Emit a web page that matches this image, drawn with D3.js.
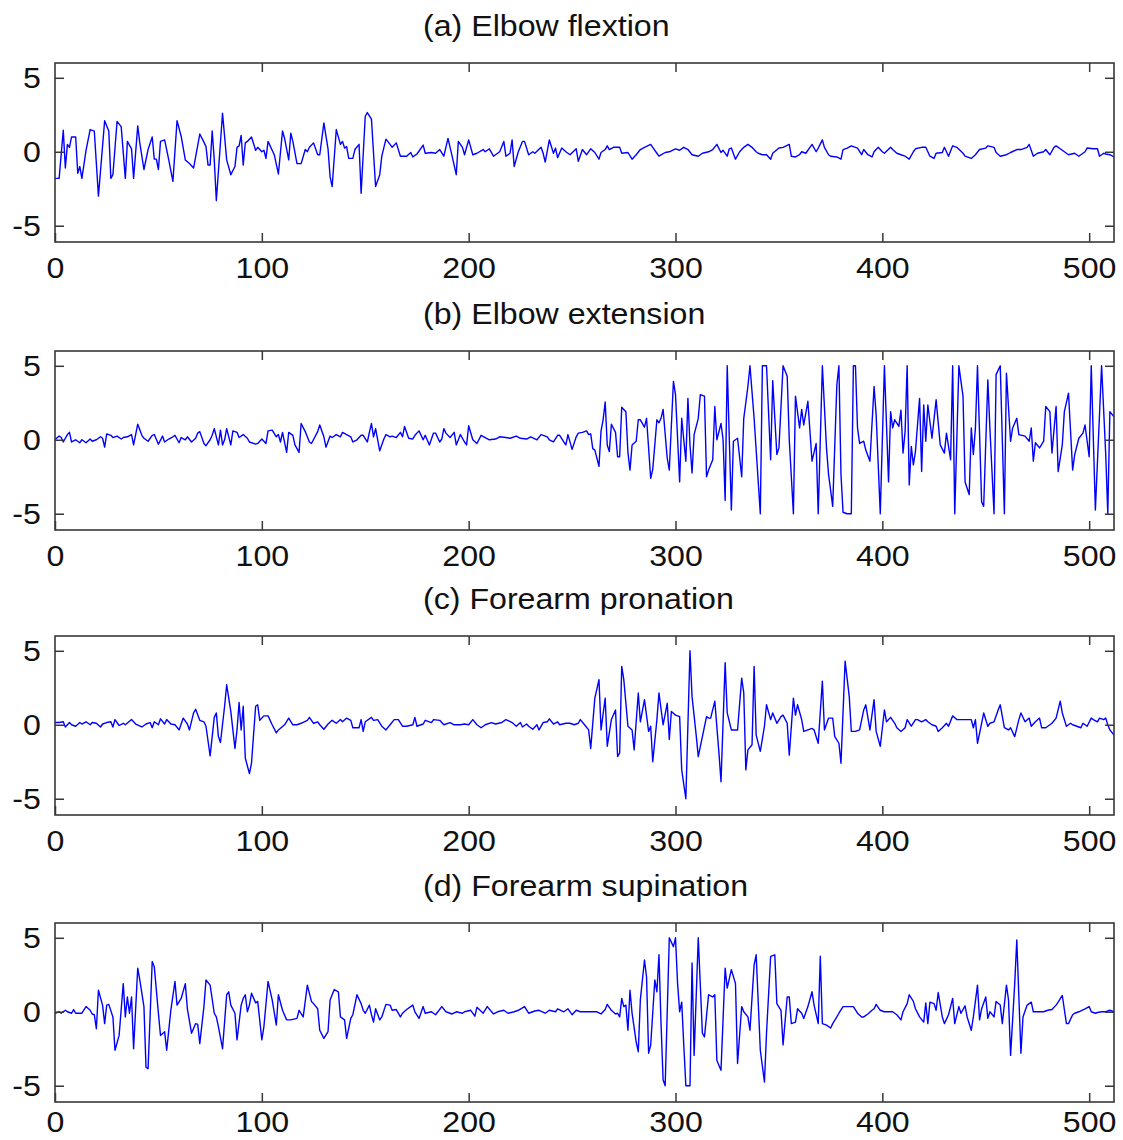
<!DOCTYPE html>
<html>
<head>
<meta charset="utf-8">
<script src="https://cdn.jsdelivr.net/npm/d3@7"></script>
<style>
  html, body { margin: 0; padding: 0; background: #fff; }
  svg { display: block; }
  text { font-family: "Liberation Sans", Arial, sans-serif; }
</style>
</head>
<body>
<svg id="chart" width="1123" height="1140"></svg>
<script>
// Panel titles and shared ticks
const panelTitles = ["(a) Elbow flextion", "(b) Elbow extension", "(c) Forearm pronation", "(d) Forearm supination"];
const xTicks = [0, 100, 200, 300, 400, 500];
const yTicks = [-5, 0, 5];

// Signals: [sample index, amplitude]
const elbowFlexion = [[0,-1.8],[2,-1.8],[4,1.45],[5,-1.1],[6,0.5],[7,0.3],[8,1.0],[10,1.0],[11,-1.45],[12,-1.0],[13,-1.8],[15,0.1],[17,1.5],[19,1.4],[21,-3.0],[24,2.1],[26,1.4],[27,-1.8],[28,-1.55],[30,2.05],[32,1.7],[34,-1.8],[35,0.7],[37,0.2],[38,-1.8],[40,1.75],[41,0.6],[43,-1.2],[45,0.15],[47,1.0],[48,-0.5],[49,-0.5],[50,-1.2],[51,0.7],[53,0.8],[55,-0.55],[57,-2.0],[59,2.1],[61,1.05],[63,-0.55],[65,-0.8],[67,-1.1],[70,1.2],[72,0.65],[73,0.35],[74,-0.9],[75,-0.9],[76,1.4],[77,-0.55],[78,-3.3],[81,2.6],[83,-0.55],[85,-1.55],[87,-1.0],[88,0.3],[89,0.4],[90,1.1],[91,-0.9],[92,0.6],[93,0.7],[95,1.0],[97,0.1],[98,0.3],[100,0.0],[101,0.1],[102,-0.45],[103,0.7],[106,-0.2],[108,-1.5],[110,1.4],[111,0.9],[113,-0.55],[114,1.25],[115,0.7],[117,-0.8],[119,-0.8],[121,0.15],[122,0.0],[123,0.3],[125,0.6],[127,-0.2],[128,-0.2],[130,1.95],[132,0.2],[133,-1.7],[134,-2.35],[136,1.5],[138,0.5],[139,0.7],[140,0.25],[141,0.35],[142,-0.45],[144,-0.45],[145,0.15],[147,0.5],[148,-2.8],[150,2.4],[151,2.65],[153,2.2],[155,-2.35],[157,-1.55],[158,-0.3],[160,0.85],[162,0.5],[163,0.3],[165,0.6],[167,-0.3],[170,-0.3],[172,-0.05],[173,-0.35],[175,-0.15],[178,0.45],[179,-0.1],[182,-0.05],[184,-0.1],[186,0.15],[188,-0.3],[190,0.9],[192,-0.3],[194,-1.55],[195,0.7],[197,0.3],[198,-0.2],[200,0.8],[202,-0.2],[204,-0.1],[207,0.15],[208,0.0],[210,0.2],[212,-0.3],[215,0.0],[217,0.7],[218,-0.3],[220,-0.1],[221,0.8],[222,-1.0],[224,0.0],[226,0.7],[227,0.7],[229,-0.2],[231,0.0],[232,-0.1],[235,0.3],[236,-0.1],[237,-0.7],[239,0.8],[241,-0.1],[242,0.25],[243,-0.4],[245,0.25],[247,0.0],[249,-0.2],[252,0.2],[253,-0.65],[255,0.15],[257,-0.2],[259,0.2],[261,-0.05],[263,-0.5],[264,-0.05],[266,0.15],[267,0.4],[268,0.15],[270,0.3],[273,0.3],[274,-0.1],[277,-0.05],[279,-0.5],[281,-0.2],[283,0.15],[285,0.3],[288,0.5],[289,0.3],[291,-0.1],[292,-0.3],[295,-0.05],[297,0.0],[300,0.2],[302,0.1],[304,0.3],[306,0.15],[308,-0.2],[311,-0.3],[313,-0.1],[316,0.0],[318,0.15],[320,0.5],[322,-0.05],[323,0.1],[325,-0.3],[326,0.2],[327,0.25],[329,-0.5],[331,0.0],[333,0.3],[335,0.5],[337,0.3],[339,0.0],[340,-0.1],[342,-0.2],[344,-0.2],[346,-0.5],[347,-0.1],[350,0.25],[352,0.3],[355,0.5],[356,-0.3],[358,-0.35],[360,-0.2],[361,0.0],[363,-0.1],[365,0.3],[366,0.5],[368,0.0],[369,0.25],[371,0.8],[372,0.3],[374,-0.2],[375,-0.3],[378,-0.35],[380,-0.5],[381,0.15],[383,0.25],[385,0.4],[388,0.25],[390,-0.2],[391,0.15],[393,-0.2],[395,-0.35],[396,0.0],[398,0.3],[400,0.0],[401,-0.1],[404,0.3],[405,0.15],[407,-0.1],[409,-0.2],[411,-0.3],[413,-0.5],[415,0.0],[416,0.2],[419,0.3],[421,0.3],[423,-0.3],[425,-0.45],[426,-0.1],[429,-0.05],[430,0.3],[432,-0.3],[434,0.4],[436,0.3],[439,-0.1],[440,-0.3],[443,-0.45],[445,-0.2],[447,0.15],[450,0.25],[451,0.4],[454,0.3],[455,-0.05],[457,-0.3],[460,-0.2],[462,-0.05],[465,0.15],[467,0.15],[470,0.3],[471,0.5],[473,-0.3],[475,-0.1],[478,0.0],[479,0.15],[481,-0.2],[483,0.3],[484,0.4],[486,0.2],[488,0.0],[490,-0.2],[493,-0.1],[495,-0.3],[498,0.0],[499,0.25],[502,0.2],[504,0.2],[505,-0.3],[507,-0.1],[508,-0.15],[510,-0.2],[512,-0.35]];

const elbowExtension = [[0,0.0],[2,0.25],[3,0.15],[4,-0.15],[6,0.35],[7,0.5],[8,-0.15],[10,0.0],[12,-0.2],[13,0.0],[15,-0.2],[17,0.05],[18,-0.1],[20,0.0],[22,0.2],[23,0.1],[24,-0.5],[25,0.4],[27,0.3],[28,0.15],[30,0.25],[32,0.05],[33,0.15],[35,0.2],[37,0.35],[38,-0.35],[40,1.05],[42,0.3],[43,0.1],[45,-0.1],[47,0.3],[48,0.35],[50,-0.3],[52,0.25],[53,-0.15],[55,0.05],[57,0.2],[58,0.3],[60,-0.2],[61,0.15],[63,0.0],[64,0.2],[66,-0.15],[68,0.1],[69,0.45],[70,0.55],[72,-0.25],[73,-0.4],[75,0.0],[76,0.3],[77,0.75],[79,-0.35],[80,0.65],[81,-0.35],[82,0.0],[83,0.75],[85,-0.35],[86,0.6],[88,0.5],[89,0.15],[91,0.35],[93,0.1],[94,-0.15],[97,-0.3],[98,-0.25],[100,0.05],[102,-0.25],[103,0.6],[105,0.65],[107,0.2],[108,0.35],[109,-0.15],[110,0.5],[112,-0.85],[113,0.5],[115,0.3],[116,-0.35],[118,-0.85],[119,1.1],[121,0.55],[123,-0.15],[124,-0.25],[127,0.55],[128,1.0],[130,0.2],[131,-0.5],[133,0.25],[134,0.15],[136,0.35],[138,0.2],[139,0.5],[141,0.35],[143,0.2],[144,-0.15],[146,0.0],[148,0.3],[149,0.3],[151,-0.15],[152,0.5],[153,1.1],[154,0.2],[155,0.75],[157,-0.75],[159,0.05],[160,0.35],[162,0.2],[163,0.25],[165,0.15],[167,0.5],[168,0.2],[169,0.9],[171,0.1],[173,0.05],[174,0.3],[176,0.6],[178,0.0],[179,0.3],[181,-0.35],[183,0.45],[184,0.45],[186,-0.15],[187,0.05],[188,0.75],[189,0.45],[191,0.15],[193,0.5],[194,-0.35],[196,0.35],[198,-0.15],[199,-0.35],[200,0.95],[202,0.0],[204,-0.25],[206,0.3],[208,0.15],[210,0.0],[213,0.05],[215,0.2],[218,0.15],[220,0.1],[223,0.25],[225,0.1],[228,0.05],[230,0.2],[233,0.0],[235,0.35],[238,0.2],[239,0.0],[241,-0.15],[243,0.3],[244,0.3],[246,-0.15],[247,-0.35],[248,0.35],[250,-0.65],[252,0.2],[253,0.45],[255,0.5],[257,0.6],[258,0.35],[259,0.4],[260,-0.6],[261,-0.7],[263,-1.8],[264,0.6],[265,1.35],[266,2.55],[267,-0.35],[268,-0.8],[269,1.05],[271,0.5],[272,-1.15],[273,-1.15],[274,2.2],[276,1.9],[277,-0.85],[278,-2.05],[279,-0.35],[281,-0.1],[282,1.35],[283,1.35],[285,0.85],[286,1.45],[288,-2.6],[289,-2.0],[291,1.35],[292,1.15],[293,1.45],[294,2.05],[296,-1.25],[297,-2.05],[299,3.95],[300,3.05],[302,-2.85],[303,1.45],[305,-1.45],[306,2.8],[307,-0.35],[308,-2.25],[309,0.35],[311,1.45],[312,3.05],[314,2.95],[315,-2.5],[316,-2.05],[318,-1.35],[319,2.25],[320,0.0],[322,1.1],[323,0.0],[324,-4.1],[325,5.0],[327,-4.75],[328,-0.1],[330,0.1],[332,-2.5],[333,1.45],[335,3.6],[336,5.0],[338,1.45],[341,-5.0],[342,5.0],[344,5.0],[346,-1.35],[347,4.0],[349,-1.0],[350,-0.55],[352,5.0],[354,4.3],[355,0.0],[357,-5.0],[358,2.95],[360,0.8],[361,2.05],[362,1.0],[364,2.6],[366,-1.45],[368,-0.25],[369,-5.0],[371,5.0],[373,-0.55],[374,-2.35],[376,-4.5],[378,3.7],[379,5.0],[380,-2.35],[381,-4.9],[383,-5.0],[385,-5.0],[386,5.0],[387,5.0],[388,0.8],[389,-0.25],[391,-0.1],[392,-0.7],[394,-1.45],[396,3.6],[397,1.7],[399,-5.0],[401,5.0],[403,-2.85],[404,1.9],[405,0.8],[406,1.35],[408,0.9],[409,2.0],[410,-0.9],[411,0.55],[412,5.0],[413,-3.05],[414,-0.45],[415,-1.7],[416,-0.8],[418,2.8],[419,-2.15],[420,2.35],[421,-0.1],[422,2.35],[424,0.1],[426,2.7],[428,-0.35],[430,-0.9],[431,0.45],[433,-1.35],[434,5.0],[435,-5.0],[437,5.0],[439,2.95],[440,-2.85],[442,-3.7],[443,0.8],[444,-1.0],[445,0.8],[446,5.0],[448,-4.2],[449,-4.5],[451,4.05],[452,0.8],[454,-5.0],[455,4.4],[457,5.0],[459,-5.0],[460,4.5],[462,-0.1],[463,0.8],[465,1.45],[466,0.35],[469,0.25],[471,-0.1],[472,0.8],[473,-1.45],[474,-0.2],[476,-0.55],[478,-0.1],[479,2.25],[481,1.9],[482,-0.9],[484,2.25],[485,-2.15],[487,-0.35],[488,1.9],[490,3.15],[492,-2.05],[493,-1.0],[495,0.1],[497,0.45],[498,1.0],[500,-1.15],[501,5.0],[503,-4.75],[504,-1.5],[506,5.0],[508,-1.0],[509,-5.0],[510,1.9],[512,1.55]];

const forearmPronation = [[0,0.15],[2,0.15],[4,0.2],[5,-0.15],[7,0.15],[8,0.0],[10,-0.1],[12,0.15],[13,0.05],[15,0.2],[17,0.0],[18,0.15],[20,0.1],[22,-0.15],[23,0.05],[25,0.15],[27,0.2],[28,-0.15],[29,0.35],[31,-0.05],[33,0.1],[34,0.0],[37,0.35],[39,0.05],[42,-0.15],[44,0.05],[46,0.15],[47,-0.2],[48,0.2],[50,0.0],[51,0.4],[53,0.05],[54,0.35],[56,0.05],[58,0.0],[60,-0.35],[62,0.45],[64,0.05],[65,-0.35],[67,0.8],[68,1.05],[70,0.3],[72,0.2],[73,-0.1],[75,-2.1],[77,0.5],[78,0.8],[79,-0.8],[80,-1.2],[82,1.25],[83,2.7],[85,0.9],[87,-1.6],[88,-0.35],[89,1.5],[90,-0.35],[91,1.25],[92,-2.25],[94,-3.3],[95,-2.6],[97,1.25],[98,1.35],[99,0.3],[101,0.6],[103,0.6],[105,0.0],[107,-0.55],[108,-0.35],[111,0.0],[113,0.45],[115,0.0],[117,0.0],[119,0.1],[122,0.3],[123,0.5],[125,0.1],[127,0.2],[128,0.0],[130,-0.3],[132,0.05],[134,0.3],[136,0.1],[138,0.35],[139,0.2],[141,0.45],[143,0.3],[144,-0.2],[147,-0.2],[148,0.35],[149,-0.45],[150,0.2],[153,0.5],[154,0.3],[156,0.35],[158,-0.1],[160,-0.35],[162,0.0],[164,0.35],[166,0.35],[168,-0.1],[170,-0.1],[173,0.0],[174,0.5],[175,-0.1],[178,0.05],[179,0.3],[182,0.15],[183,0.35],[186,0.3],[188,0.0],[191,0.15],[193,0.0],[196,0.0],[198,0.05],[200,0.0],[202,0.35],[204,0.0],[206,-0.2],[208,0.0],[211,0.15],[213,0.05],[216,0.15],[218,0.35],[221,0.15],[223,-0.1],[225,0.15],[226,-0.15],[228,0.05],[229,-0.1],[231,-0.3],[233,0.0],[234,-0.35],[236,0.15],[238,0.2],[239,0.4],[241,0.05],[243,0.2],[244,0.0],[247,0.1],[249,0.1],[251,0.0],[253,0.1],[254,0.35],[256,0.0],[258,-0.35],[259,-1.6],[261,1.8],[263,3.05],[264,-0.35],[266,1.8],[267,-1.45],[269,0.35],[271,1.0],[272,-2.15],[273,-1.9],[274,3.95],[275,3.05],[277,-0.1],[279,-0.35],[280,-1.7],[282,2.15],[283,0.2],[285,1.7],[287,-0.45],[288,-0.1],[289,-2.5],[291,0.35],[292,2.15],[294,0.0],[296,1.45],[297,-1.0],[298,0.9],[300,0.65],[302,0.55],[303,-3.05],[305,-5.0],[307,5.0],[308,1.9],[310,-0.7],[311,-2.15],[313,-0.8],[315,0.55],[316,0.45],[317,0.45],[319,1.6],[321,-1.9],[322,-3.85],[324,4.2],[325,0.8],[327,-0.35],[328,-0.35],[330,-0.35],[332,3.15],[333,2.15],[334,-3.05],[335,-1.7],[337,-1.35],[338,3.95],[339,-0.7],[341,-1.8],[343,-0.1],[344,1.35],[346,0.35],[347,0.8],[349,0.1],[351,0.55],[352,0.65],[354,0.1],[355,-2.05],[357,1.8],[358,0.65],[359,1.35],[361,0.35],[362,-0.45],[364,-0.35],[366,-0.25],[367,-0.35],[369,-1.25],[371,2.95],[372,-0.35],[374,0.45],[376,0.45],[377,-0.8],[379,-1.25],[380,-2.6],[382,4.3],[384,1.9],[385,-0.45],[387,-0.45],[389,-0.35],[391,1.0],[392,1.35],[394,-0.35],[396,1.7],[397,-0.45],[399,-1.45],[401,1.0],[402,0.2],[404,0.5],[406,0.1],[407,-0.2],[409,-0.45],[411,-0.2],[412,0.35],[414,-0.1],[416,0.35],[417,0.35],[419,0.2],[421,0.35],[422,0.2],[424,0.0],[426,-0.1],[427,-0.45],[429,-0.2],[431,0.1],[432,-0.1],[434,0.6],[436,0.35],[438,0.35],[441,0.35],[443,0.35],[444,-0.2],[445,0.35],[446,-1.25],[448,0.1],[449,0.8],[451,-0.1],[452,0.1],[454,0.2],[456,1.0],[457,1.35],[459,-0.2],[461,-0.35],[462,-0.2],[464,-0.8],[466,0.35],[467,0.8],[469,0.2],[471,0.45],[472,-0.1],[474,0.2],[476,0.45],[477,-0.2],[479,-0.2],[481,0.0],[482,0.1],[484,0.45],[486,1.6],[487,0.8],[489,-0.1],[491,0.1],[492,0.0],[494,-0.1],[496,-0.2],[497,0.1],[499,-0.1],[501,0.45],[502,0.35],[504,0.2],[505,0.45],[507,0.35],[508,0.45],[509,0.0],[510,-0.35],[512,-0.7]];

const forearmSupination = [[0,-0.1],[2,0.0],[3,-0.1],[5,0.1],[6,0.0],[8,-0.1],[9,0.15],[10,-0.1],[12,-0.1],[13,-0.1],[15,0.35],[17,0.1],[18,-0.15],[19,-0.2],[20,-1.15],[21,1.45],[23,0.45],[24,-0.8],[25,0.45],[26,0.5],[28,-0.35],[29,-2.6],[31,-1.6],[33,1.9],[34,-0.35],[35,1.0],[36,-0.1],[37,1.0],[38,-2.5],[40,2.95],[41,2.15],[43,0.35],[44,-3.75],[45,-3.85],[47,3.4],[48,3.05],[50,-0.1],[51,-1.6],[53,-1.35],[54,-2.6],[56,0.1],[58,2.05],[59,0.45],[61,0.9],[63,1.9],[64,0.2],[66,-1.45],[68,-0.8],[69,-0.85],[70,-2.15],[72,0.35],[73,2.15],[75,1.8],[77,-0.1],[78,-0.35],[79,-1.0],[81,-2.5],[83,1.15],[84,1.35],[85,0.45],[87,-0.1],[88,-1.9],[90,0.45],[91,0.9],[92,1.15],[93,0.0],[94,0.45],[95,1.25],[97,0.6],[98,0.7],[100,-1.9],[101,-1.0],[103,2.05],[105,0.8],[107,-0.9],[108,1.15],[110,0.1],[112,-0.55],[114,-0.55],[117,-0.45],[118,0.1],[120,-0.35],[122,1.8],[124,0.7],[125,0.55],[127,0.2],[128,-1.25],[130,-1.8],[132,-1.35],[133,0.8],[135,1.5],[137,1.35],[138,-0.35],[140,-0.55],[141,-1.8],[143,-0.45],[144,-0.2],[146,1.15],[148,0.55],[149,0.1],[150,-0.1],[152,0.45],[153,-0.2],[154,-0.7],[155,0.2],[157,-0.55],[158,-0.35],[160,0.5],[162,0.45],[163,0.1],[165,0.15],[167,-0.35],[168,-0.1],[170,0.15],[173,0.45],[174,0.0],[176,-0.45],[178,0.35],[179,-0.1],[182,0.0],[184,-0.2],[187,0.35],[189,0.0],[192,-0.15],[194,0.0],[197,-0.1],[198,0.0],[201,0.1],[203,-0.3],[204,0.3],[207,-0.1],[209,0.35],[212,-0.15],[214,0.0],[217,0.1],[219,-0.1],[222,0.0],[224,0.1],[227,0.35],[229,-0.1],[232,0.05],[234,0.1],[237,-0.1],[239,0.1],[242,0.0],[243,0.2],[246,0.0],[248,0.2],[250,-0.2],[252,0.1],[254,0.0],[257,0.0],[260,0.0],[262,0.0],[264,-0.15],[266,0.15],[267,0.5],[269,0.1],[271,-0.15],[272,-0.1],[273,-0.35],[274,0.9],[275,0.35],[276,0.45],[277,-1.25],[278,1.45],[279,-0.1],[281,-2.05],[282,-2.7],[283,0.8],[285,3.5],[286,2.35],[287,-2.8],[288,-2.25],[290,2.15],[291,1.35],[292,3.85],[293,-0.8],[294,-4.6],[295,-5.0],[297,5.0],[299,4.4],[300,5.0],[301,1.9],[302,0.0],[303,0.65],[304,-2.25],[305,-5.0],[307,-5.0],[308,3.3],[309,-2.95],[311,5.0],[313,-1.45],[314,-1.7],[316,1.15],[318,1.0],[319,1.15],[320,-3.3],[322,-3.95],[324,2.95],[325,1.6],[327,2.85],[329,1.9],[330,-3.5],[332,0.35],[333,0.0],[335,-0.35],[336,-1.25],[338,3.15],[339,3.85],[341,-2.6],[343,-4.75],[344,-1.45],[346,3.75],[348,3.85],[349,0.55],[351,0.1],[352,-2.25],[354,1.0],[355,1.0],[356,-0.8],[358,-0.7],[359,0.2],[361,-0.1],[362,-0.45],[364,0.35],[366,1.35],[367,0.45],[369,-0.8],[370,3.75],[371,-0.8],[373,-0.9],[375,-1.1],[376,-0.8],[378,-0.35],[379,-0.1],[381,0.35],[382,0.35],[384,0.35],[386,0.35],[388,-0.1],[390,-0.35],[391,-0.35],[393,-0.15],[395,0.1],[396,0.2],[397,0.5],[399,0.1],[401,0.0],[403,0.0],[405,0.0],[407,-0.2],[409,-0.55],[410,0.0],[412,0.55],[413,1.15],[415,0.7],[416,0.2],[418,-0.35],[420,-0.7],[421,0.6],[422,-0.8],[423,0.65],[425,0.55],[426,0.1],[427,1.3],[429,-0.35],[430,-0.8],[432,-0.2],[434,0.9],[435,-0.8],[437,0.35],[438,-0.1],[440,0.4],[441,-0.35],[443,-1.25],[444,-0.35],[446,1.8],[447,-0.55],[448,0.2],[450,1.0],[451,-0.45],[452,0.0],[454,-0.35],[455,0.7],[457,0.45],[458,-0.8],[460,1.8],[461,0.8],[462,-2.95],[464,1.9],[465,4.85],[467,-2.8],[468,-0.35],[470,0.45],[472,0.65],[473,0.0],[475,0.0],[478,0.0],[480,0.1],[482,0.15],[484,0.45],[485,0.65],[487,1.1],[489,-0.8],[490,-0.8],[492,-0.2],[493,-0.1],[495,0.0],[498,0.2],[500,0.35],[501,0.0],[503,-0.1],[504,-0.05],[506,0.0],[508,0.0],[510,0.1],[512,0.0]];

const signals = [elbowFlexion, elbowExtension, forearmPronation, forearmSupination];

// Layout
const plotLeft = 55, plotRight = 1114;
const panelTops = [63, 351, 636, 923];
const panelHeight = 179;
const labelGap = [15, 15, 15, 9];
const fontSize = 29.5;
const textStretch = "scale(1.09,1)";
const inkColor = "#111";
const frameColor = "#383838";
const plainNumber = d => String(d);   // ASCII hyphen for negatives

const svg = d3.select("#chart");
const x = d3.scaleLinear().domain([0, 512]).range([plotLeft, plotRight]);

panelTops.forEach((top, i) => {
  const bottom = top + panelHeight;
  const y = d3.scaleLinear().domain([-6.1, 6.0]).range([bottom, top]);
  const g = svg.append("g").attr("class", "panel");

  // title, left-aligned above the plot
  g.append("text")
    .attr("transform", `translate(423,${top - 27}) ${textStretch}`)
    .attr("font-size", fontSize)
    .attr("fill", inkColor)
    .text(panelTitles[i]);

  // clip for the trace
  const clipId = "clip" + i;
  svg.append("clipPath").attr("id", clipId)
    .append("rect")
    .attr("x", plotLeft).attr("y", top)
    .attr("width", plotRight - plotLeft).attr("height", panelHeight);

  // trace
  const line = d3.line().x(d => x(d[0])).y(d => y(d[1]));
  g.append("path")
    .datum(signals[i])
    .attr("clip-path", `url(#${clipId})`)
    .attr("fill", "none")
    .attr("stroke", "#0000ff")
    .attr("stroke-width", 1.4)
    .attr("stroke-linejoin", "round")
    .attr("d", line);

  // axes with inward ticks on every side
  const styleAxis = sel => {
    sel.select(".domain").remove();
    sel.selectAll(".tick line").attr("stroke", frameColor).attr("stroke-width", 1.5);
    sel.selectAll(".tick text")
      .attr("fill", inkColor)
      .attr("font-size", fontSize)
      .attr("font-family", '"Liberation Sans", Arial, sans-serif')
      .attr("transform", textStretch);
  };

  g.append("g").attr("transform", `translate(0,${bottom})`)
    .call(d3.axisBottom(x).tickValues(xTicks).tickFormat(plainNumber)
      .tickSizeInner(-9).tickSizeOuter(0).tickPadding(labelGap[i]))
    .call(styleAxis);
  g.append("g").attr("transform", `translate(0,${top})`)
    .call(d3.axisTop(x).tickValues(xTicks.filter(v => v > 0)).tickSizeInner(-9).tickSizeOuter(0).tickFormat(""))
    .call(styleAxis);
  g.append("g").attr("transform", `translate(${plotLeft},0)`)
    .call(d3.axisLeft(y).tickValues(yTicks).tickFormat(plainNumber)
      .tickSizeInner(-9).tickSizeOuter(0).tickPadding(13))
    .call(styleAxis);
  g.append("g").attr("transform", `translate(${plotRight},0)`)
    .call(d3.axisRight(y).tickValues(yTicks).tickSizeInner(-9).tickSizeOuter(0).tickFormat(""))
    .call(styleAxis);

  // frame
  g.append("rect")
    .attr("x", plotLeft).attr("y", top)
    .attr("width", plotRight - plotLeft).attr("height", panelHeight)
    .attr("fill", "none")
    .attr("stroke", frameColor)
    .attr("stroke-width", 1.6);
});
</script>
</body>
</html>
